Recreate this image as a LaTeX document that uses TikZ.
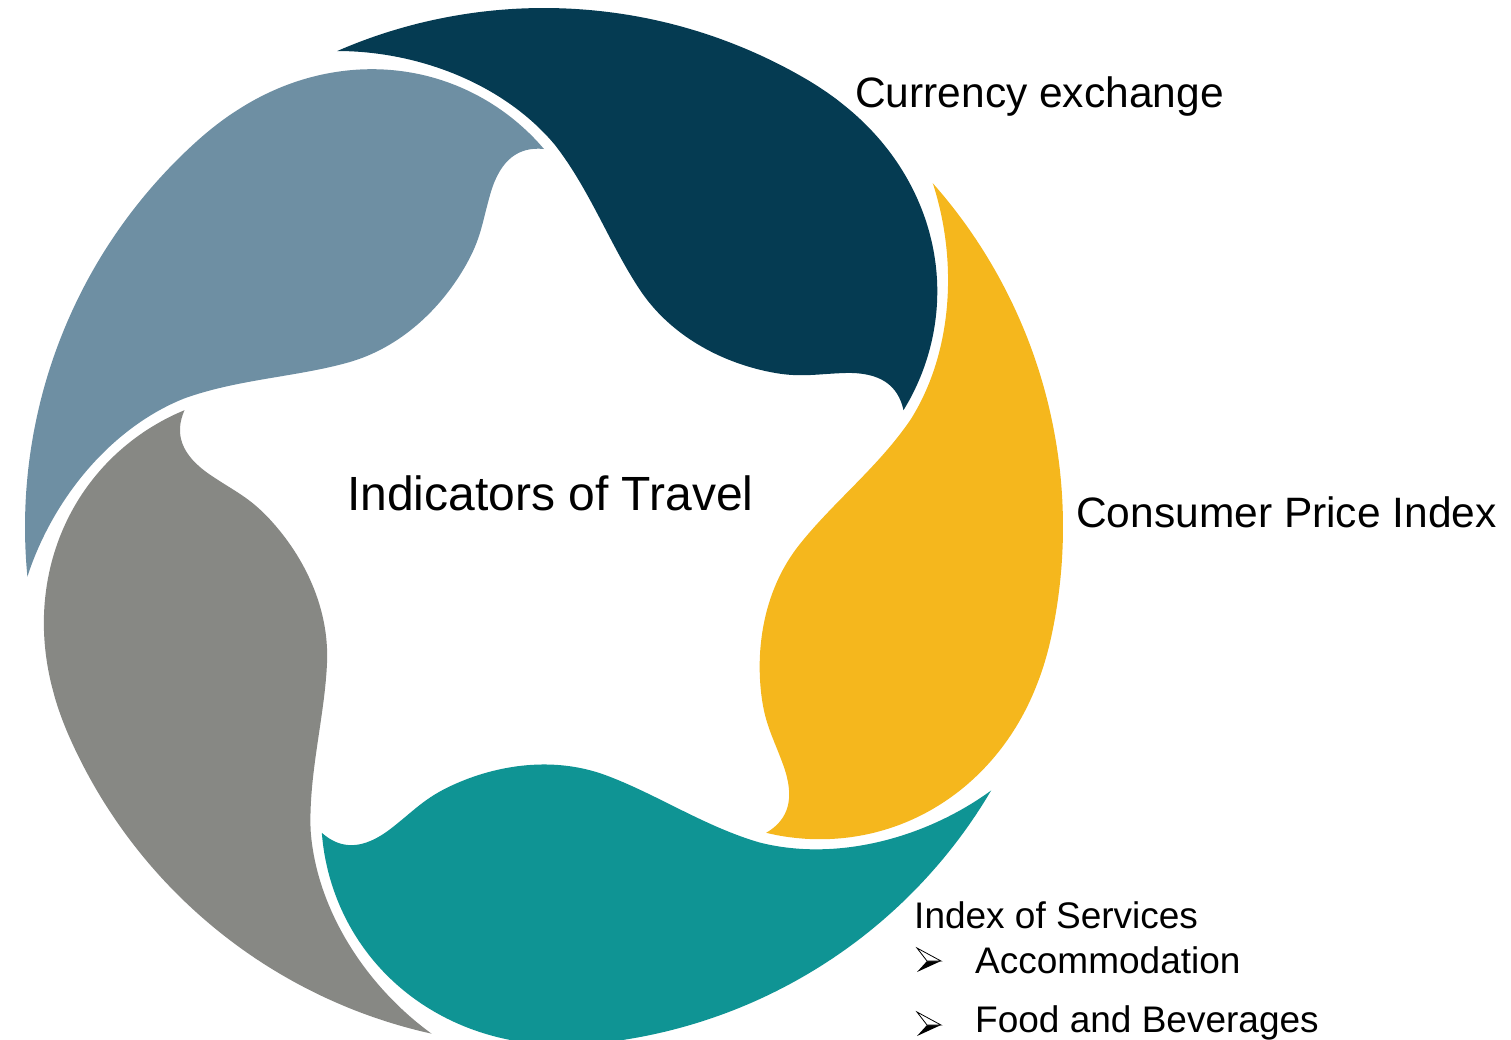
\documentclass[tikz,border=0pt]{standalone}
\usepackage{fontspec}
\setmainfont{Liberation Sans}
\definecolor{navyc}{HTML}{053B52}
\definecolor{yellowc}{HTML}{F5B71D}
\definecolor{tealc}{HTML}{0F9494}
\definecolor{grayc}{HTML}{878884}
\definecolor{bluec}{HTML}{6E8FA3}
\tikzset{
  lbl/.style={anchor=base west, inner sep=0pt, text=black},
  bigl/.style={lbl, font=\fontsize{42.5}{48}\selectfont},
  midl/.style={lbl, font=\fontsize{37}{44}\selectfont},
  ctrl/.style={lbl, font=\fontsize{48}{54}\selectfont},
}
\begin{document}
\begin{tikzpicture}[x=1pt, y=-1pt]
\useasboundingbox (0,0) rectangle (1511,1039);
\foreach \ang/\col in {0/navyc, -72/yellowc, -144/tealc, -216/grayc, -288/bluec}{
  \fill[\col, rotate around={\ang:(544,527)}]
    plot[domain=18:113.5, samples=90, smooth]
      ({544+(519-141*pow(max(0.01,(60-\x)/42),2.3))*cos(\x)},
       {527-(519-141*pow(max(0.01,(60-\x)/42),2.3))*sin(\x)})
    -- (337,51)
    .. controls (420,51) and (505,85) .. (555,145)
    .. controls (590,190) and (610,245) .. (640,290)
    .. controls (670,335) and (720,362) .. (770,372)
    .. controls (800,378) and (815,374) .. (845,373)
    .. controls (880,372) and (898,385) .. (903.5,410.2) -- cycle;
}
\node[ctrl] (center) at (347,510) {Indicators of Travel};
\node[bigl] (cur) at (855,107) {Currency exchange};
\node[bigl] (cpi) at (1076,527) {Consumer Price Index};
\node[midl] (ios) at (914,928) {Index of Services};
\node[midl] (acc) at (975,973) {Accommodation};
\node[midl] (fab) at (975,1032) {Food and Beverages};
% bullets
\foreach \yy in {961,1025}{
  \fill[black] (927,\yy) -- (941,\yy) -- (917,\yy+11) -- cycle;
  \draw[black, line width=0.8pt, fill=white, line join=miter] (917,\yy-13) -- (941,\yy) -- (927,\yy) -- cycle;
}
\end{tikzpicture}
\end{document}
